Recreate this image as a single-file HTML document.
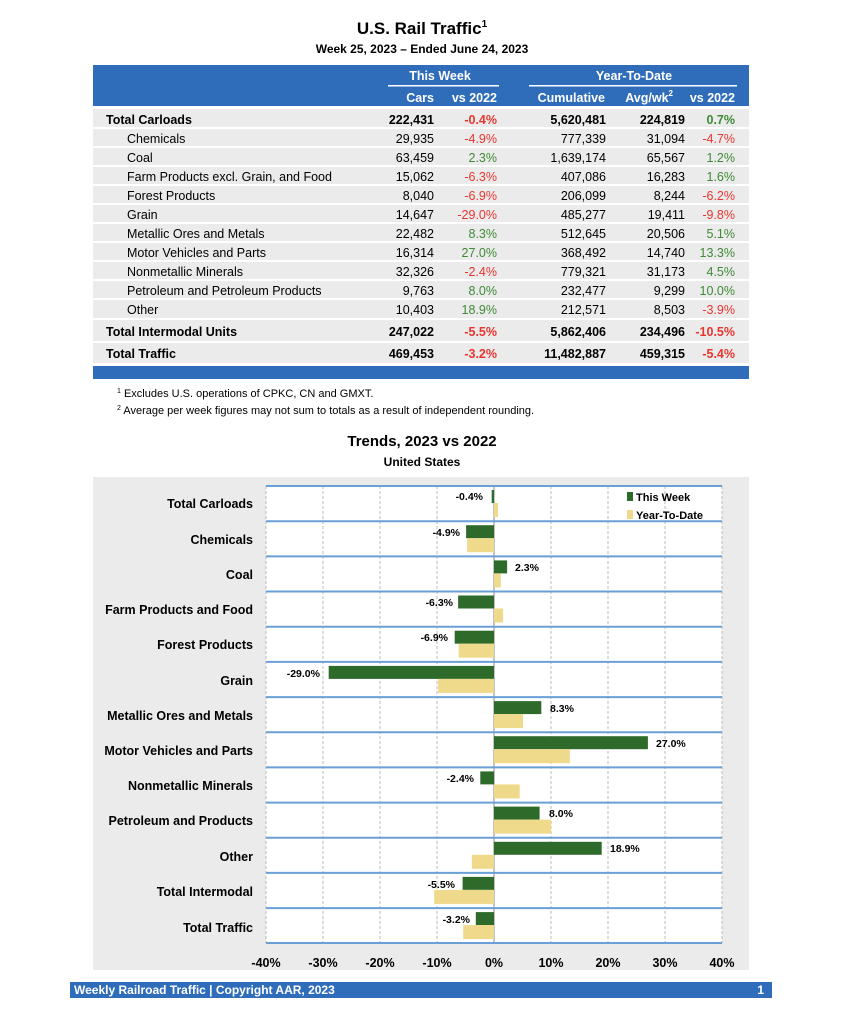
<!DOCTYPE html>
<html><head><meta charset="utf-8"><style>
html,body{margin:0;padding:0;background:#fff;}
svg{display:block;font-family:"Liberation Sans",Arial,sans-serif;}
.b{font-weight:bold}
</style></head><body>
<svg width="845" height="1024" viewBox="0 0 845 1024" xmlns="http://www.w3.org/2000/svg">
<text x="422" y="34" text-anchor="middle" font-size="17" class="b">U.S. Rail Traffic<tspan font-size="10" dy="-7">1</tspan></text>
<text x="422" y="53" text-anchor="middle" font-size="12" class="b">Week 25, 2023 – Ended June 24, 2023</text>
<rect x="93" y="65" width="656" height="41" fill="#2f6dbb"/>
<g fill="#fff" font-size="12.5" class="b">
<text x="440" y="80" text-anchor="middle">This Week</text>
<text x="634" y="80" text-anchor="middle">Year-To-Date</text>
<text x="434" y="102" text-anchor="end">Cars</text>
<text x="497" y="102" text-anchor="end">vs 2022</text>
<text x="605" y="102" text-anchor="end">Cumulative</text>
<text x="673" y="102" text-anchor="end">Avg/wk<tspan font-size="8" dy="-6">2</tspan></text>
<text x="735" y="102" dy="0" text-anchor="end">vs 2022</text>
</g>
<rect x="388" y="85" width="111" height="1.5" fill="#fff"/>
<rect x="529" y="85" width="208" height="1.5" fill="#fff"/>
<g font-size="12.5">
<rect x="93" y="109" width="656" height="18" fill="#ebebeb"/>
<rect x="93" y="129" width="656" height="17" fill="#ebebeb"/>
<rect x="93" y="148" width="656" height="17" fill="#ebebeb"/>
<rect x="93" y="167" width="656" height="17" fill="#ebebeb"/>
<rect x="93" y="186" width="656" height="17" fill="#ebebeb"/>
<rect x="93" y="205" width="656" height="17" fill="#ebebeb"/>
<rect x="93" y="224" width="656" height="17" fill="#ebebeb"/>
<rect x="93" y="243" width="656" height="17" fill="#ebebeb"/>
<rect x="93" y="262" width="656" height="17" fill="#ebebeb"/>
<rect x="93" y="281" width="656" height="17" fill="#ebebeb"/>
<rect x="93" y="300" width="656" height="18" fill="#ebebeb"/>
<rect x="93" y="320" width="656" height="21" fill="#ebebeb"/>
<rect x="93" y="343" width="656" height="20" fill="#ebebeb"/>
<rect x="93" y="366" width="656" height="13" fill="#2f6dbb"/>
<g class="b"><text x="106" y="124">Total Carloads</text><text x="434" y="124" text-anchor="end">222,431</text><text x="497" y="124" text-anchor="end" fill="#e8362f">-0.4%</text><text x="606" y="124" text-anchor="end">5,620,481</text><text x="685" y="124" text-anchor="end">224,819</text><text x="735" y="124" text-anchor="end" fill="#3e8a35">0.7%</text></g>
<text x="127" y="143">Chemicals</text><text x="434" y="143" text-anchor="end">29,935</text><text x="497" y="143" text-anchor="end" fill="#e8362f">-4.9%</text><text x="606" y="143" text-anchor="end">777,339</text><text x="685" y="143" text-anchor="end">31,094</text><text x="735" y="143" text-anchor="end" fill="#e8362f">-4.7%</text>
<text x="127" y="162">Coal</text><text x="434" y="162" text-anchor="end">63,459</text><text x="497" y="162" text-anchor="end" fill="#3e8a35">2.3%</text><text x="606" y="162" text-anchor="end">1,639,174</text><text x="685" y="162" text-anchor="end">65,567</text><text x="735" y="162" text-anchor="end" fill="#3e8a35">1.2%</text>
<text x="127" y="181">Farm Products excl. Grain, and Food</text><text x="434" y="181" text-anchor="end">15,062</text><text x="497" y="181" text-anchor="end" fill="#e8362f">-6.3%</text><text x="606" y="181" text-anchor="end">407,086</text><text x="685" y="181" text-anchor="end">16,283</text><text x="735" y="181" text-anchor="end" fill="#3e8a35">1.6%</text>
<text x="127" y="200">Forest Products</text><text x="434" y="200" text-anchor="end">8,040</text><text x="497" y="200" text-anchor="end" fill="#e8362f">-6.9%</text><text x="606" y="200" text-anchor="end">206,099</text><text x="685" y="200" text-anchor="end">8,244</text><text x="735" y="200" text-anchor="end" fill="#e8362f">-6.2%</text>
<text x="127" y="219">Grain</text><text x="434" y="219" text-anchor="end">14,647</text><text x="497" y="219" text-anchor="end" fill="#e8362f">-29.0%</text><text x="606" y="219" text-anchor="end">485,277</text><text x="685" y="219" text-anchor="end">19,411</text><text x="735" y="219" text-anchor="end" fill="#e8362f">-9.8%</text>
<text x="127" y="238">Metallic Ores and Metals</text><text x="434" y="238" text-anchor="end">22,482</text><text x="497" y="238" text-anchor="end" fill="#3e8a35">8.3%</text><text x="606" y="238" text-anchor="end">512,645</text><text x="685" y="238" text-anchor="end">20,506</text><text x="735" y="238" text-anchor="end" fill="#3e8a35">5.1%</text>
<text x="127" y="257">Motor Vehicles and Parts</text><text x="434" y="257" text-anchor="end">16,314</text><text x="497" y="257" text-anchor="end" fill="#3e8a35">27.0%</text><text x="606" y="257" text-anchor="end">368,492</text><text x="685" y="257" text-anchor="end">14,740</text><text x="735" y="257" text-anchor="end" fill="#3e8a35">13.3%</text>
<text x="127" y="276">Nonmetallic Minerals</text><text x="434" y="276" text-anchor="end">32,326</text><text x="497" y="276" text-anchor="end" fill="#e8362f">-2.4%</text><text x="606" y="276" text-anchor="end">779,321</text><text x="685" y="276" text-anchor="end">31,173</text><text x="735" y="276" text-anchor="end" fill="#3e8a35">4.5%</text>
<text x="127" y="295">Petroleum and Petroleum Products</text><text x="434" y="295" text-anchor="end">9,763</text><text x="497" y="295" text-anchor="end" fill="#3e8a35">8.0%</text><text x="606" y="295" text-anchor="end">232,477</text><text x="685" y="295" text-anchor="end">9,299</text><text x="735" y="295" text-anchor="end" fill="#3e8a35">10.0%</text>
<text x="127" y="314">Other</text><text x="434" y="314" text-anchor="end">10,403</text><text x="497" y="314" text-anchor="end" fill="#3e8a35">18.9%</text><text x="606" y="314" text-anchor="end">212,571</text><text x="685" y="314" text-anchor="end">8,503</text><text x="735" y="314" text-anchor="end" fill="#e8362f">-3.9%</text>
<g class="b"><text x="106" y="336">Total Intermodal Units</text><text x="434" y="336" text-anchor="end">247,022</text><text x="497" y="336" text-anchor="end" fill="#e8362f">-5.5%</text><text x="606" y="336" text-anchor="end">5,862,406</text><text x="685" y="336" text-anchor="end">234,496</text><text x="735" y="336" text-anchor="end" fill="#e8362f">-10.5%</text></g>
<g class="b"><text x="106" y="358">Total Traffic</text><text x="434" y="358" text-anchor="end">469,453</text><text x="497" y="358" text-anchor="end" fill="#e8362f">-3.2%</text><text x="606" y="358" text-anchor="end">11,482,887</text><text x="685" y="358" text-anchor="end">459,315</text><text x="735" y="358" text-anchor="end" fill="#e8362f">-5.4%</text></g>
</g>
<g font-size="11">
<text x="117" y="397"><tspan font-size="7" dy="-4">1</tspan><tspan dy="4"> Excludes U.S. operations of CPKC, CN and GMXT.</tspan></text>
<text x="117" y="414"><tspan font-size="7" dy="-4">2</tspan><tspan dy="4"> Average per week figures may not sum to totals as a result of independent rounding.</tspan></text>
</g>
<text x="422" y="446" text-anchor="middle" font-size="15" class="b">Trends, 2023 vs 2022</text>
<text x="422" y="466" text-anchor="middle" font-size="12" class="b">United States</text>
<rect x="93" y="477" width="656" height="493" fill="#ebebeb"/>
<rect x="266" y="486" width="456" height="457" fill="#fff"/>
<g stroke="#bbb" stroke-dasharray="3,2" stroke-width="1">
<line x1="266" y1="486" x2="266" y2="943"/><line x1="323" y1="486" x2="323" y2="943"/><line x1="380" y1="486" x2="380" y2="943"/><line x1="437" y1="486" x2="437" y2="943"/><line x1="551" y1="486" x2="551" y2="943"/><line x1="608" y1="486" x2="608" y2="943"/><line x1="665" y1="486" x2="665" y2="943"/><line x1="722" y1="486" x2="722" y2="943"/>
</g>
<line x1="494" y1="486" x2="494" y2="943" stroke="#888" stroke-width="1"/>
<g stroke="#6a9fd8" stroke-width="2">
<line x1="266" y1="486" x2="722" y2="486"/><line x1="266" y1="521.2" x2="722" y2="521.2"/><line x1="266" y1="556.4" x2="722" y2="556.4"/><line x1="266" y1="591.5" x2="722" y2="591.5"/><line x1="266" y1="626.7" x2="722" y2="626.7"/><line x1="266" y1="661.9" x2="722" y2="661.9"/><line x1="266" y1="697.1" x2="722" y2="697.1"/><line x1="266" y1="732.2" x2="722" y2="732.2"/><line x1="266" y1="767.4" x2="722" y2="767.4"/><line x1="266" y1="802.6" x2="722" y2="802.6"/><line x1="266" y1="837.8" x2="722" y2="837.8"/><line x1="266" y1="872.9" x2="722" y2="872.9"/><line x1="266" y1="908.1" x2="722" y2="908.1"/><line x1="266" y1="943" x2="722" y2="943"/>
</g>
<g font-size="12.5" class="b" text-anchor="end">
<text x="253" y="508">Total Carloads</text><text x="253" y="544">Chemicals</text><text x="253" y="579">Coal</text><text x="253" y="614">Farm Products and Food</text><text x="253" y="649">Forest Products</text><text x="253" y="685">Grain</text><text x="253" y="720">Metallic Ores and Metals</text><text x="253" y="755">Motor Vehicles and Parts</text><text x="253" y="790">Nonmetallic Minerals</text><text x="253" y="825">Petroleum and Products</text><text x="253" y="861">Other</text><text x="253" y="896">Total Intermodal</text><text x="253" y="932">Total Traffic</text>
</g>
<g font-size="12.5" class="b" text-anchor="middle">
<text x="266" y="967">-40%</text><text x="323" y="967">-30%</text><text x="380" y="967">-20%</text><text x="437" y="967">-10%</text><text x="494" y="967">0%</text><text x="551" y="967">10%</text><text x="608" y="967">20%</text><text x="665" y="967">30%</text><text x="722" y="967">40%</text>
</g>
<rect x="627" y="492" width="6" height="9" fill="#2e6b2b"/><text x="636" y="501" font-size="11" class="b">This Week</text>
<rect x="627" y="510" width="6" height="9" fill="#efd98a"/><text x="636" y="519" font-size="11" class="b">Year-To-Date</text>
<rect x="70" y="982" width="702" height="16" fill="#2f6dbb"/>
<text x="74" y="994" font-size="12" fill="#fff" class="b">Weekly Railroad Traffic | Copyright AAR, 2023</text>
<text x="764" y="994" font-size="12" fill="#fff" class="b" text-anchor="end">1</text>
<g class="b" font-size="10.5">
<rect x="491.7" y="490" width="2.3" height="13" fill="#2e6b2b"/><rect x="494" y="503" width="4" height="14" fill="#efd98a"/><text x="483" y="500" text-anchor="end">-0.4%</text>
<rect x="466.1" y="525.2" width="27.9" height="13" fill="#2e6b2b"/><rect x="467.2" y="538.2" width="26.8" height="14" fill="#efd98a"/><text x="460" y="536" text-anchor="end">-4.9%</text>
<rect x="494" y="560.4" width="13.1" height="13" fill="#2e6b2b"/><rect x="494" y="573.4" width="6.8" height="14" fill="#efd98a"/><text x="515" y="571">2.3%</text>
<rect x="458.1" y="595.5" width="35.9" height="13" fill="#2e6b2b"/><rect x="494" y="608.5" width="9.1" height="14" fill="#efd98a"/><text x="453" y="606" text-anchor="end">-6.3%</text>
<rect x="454.7" y="630.7" width="39.3" height="13" fill="#2e6b2b"/><rect x="458.7" y="643.7" width="35.3" height="14" fill="#efd98a"/><text x="448" y="641" text-anchor="end">-6.9%</text>
<rect x="328.7" y="665.9" width="165.3" height="13" fill="#2e6b2b"/><rect x="438.1" y="678.9" width="55.9" height="14" fill="#efd98a"/><text x="320" y="677" text-anchor="end">-29.0%</text>
<rect x="494" y="701.1" width="47.3" height="13" fill="#2e6b2b"/><rect x="494" y="714.1" width="29.1" height="14" fill="#efd98a"/><text x="550" y="712">8.3%</text>
<rect x="494" y="736.2" width="153.9" height="13" fill="#2e6b2b"/><rect x="494" y="749.2" width="75.8" height="14" fill="#efd98a"/><text x="656" y="747">27.0%</text>
<rect x="480.3" y="771.4" width="13.7" height="13" fill="#2e6b2b"/><rect x="494" y="784.4" width="25.7" height="14" fill="#efd98a"/><text x="474" y="782" text-anchor="end">-2.4%</text>
<rect x="494" y="806.6" width="45.6" height="13" fill="#2e6b2b"/><rect x="494" y="819.6" width="57" height="14" fill="#efd98a"/><text x="549" y="817">8.0%</text>
<rect x="494" y="841.8" width="107.7" height="13" fill="#2e6b2b"/><rect x="471.8" y="854.8" width="22.2" height="14" fill="#efd98a"/><text x="610" y="852">18.9%</text>
<rect x="462.6" y="876.9" width="31.4" height="13" fill="#2e6b2b"/><rect x="434.2" y="889.9" width="59.8" height="14" fill="#efd98a"/><text x="455" y="888" text-anchor="end">-5.5%</text>
<rect x="475.8" y="912.1" width="18.2" height="13" fill="#2e6b2b"/><rect x="463.2" y="925.1" width="30.8" height="14" fill="#efd98a"/><text x="470" y="923" text-anchor="end">-3.2%</text>
</g>
</svg>
</body></html>
